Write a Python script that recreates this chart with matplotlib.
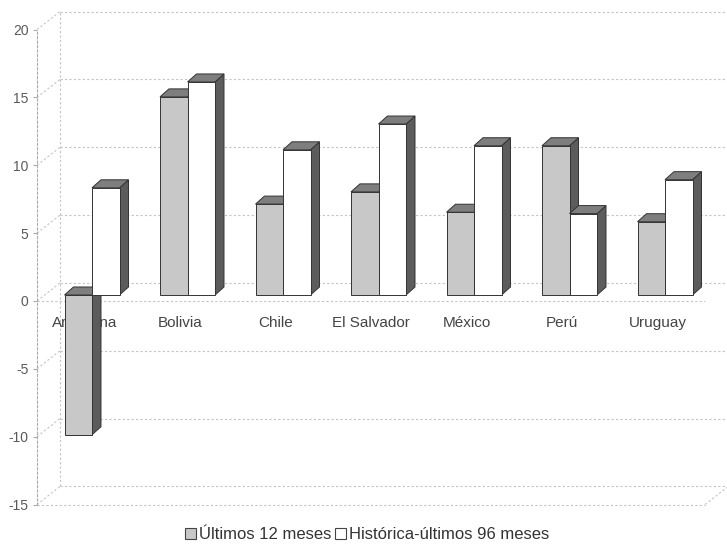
import matplotlib.pyplot as plt
from matplotlib.patches import Polygon, Rectangle, Patch

paises = ["Argentina", "Bolivia", "Chile", "El Salvador", "México", "Perú", "Uruguay"]
ultimos_12 = [-10.3, 14.6, 6.7, 7.6, 6.1, 11.0, 5.4]
historica_96 = [7.9, 15.7, 10.7, 12.6, 11.0, 6.0, 8.5]
ticks_y = [-15, -10, -5, 0, 5, 10, 15, 20]
series = ["Últimos 12 meses", "Histórica-últimos 96 meses"]

plt.rcParams['font.family'] = ['Liberation Sans', 'DejaVu Sans']

# oblique 3d look: depth of the walls and of the bars, in data units
WALL_DX, WALL_DY = 0.241, 1.33
BAR_DX, BAR_DY = 0.094, 0.59
BAR_W = 0.288
BAR_LIFT = 0.44
X0, X1 = -0.576, 6.42
GRID = '#c4c4c4'


def barra(ax, xl, v, frente, tapa, lado):
    lo, hi = sorted([BAR_LIFT, v + BAR_LIFT])
    xr = xl + BAR_W
    kw = dict(ec='#333333', lw=0.7, zorder=3, joinstyle='miter')
    ax.add_patch(Polygon([(xr, lo), (xr + BAR_DX, lo + BAR_DY), (xr + BAR_DX, hi + BAR_DY), (xr, hi)], fc=lado, **kw))
    ax.add_patch(Polygon([(xl, hi), (xr, hi), (xr + BAR_DX, hi + BAR_DY), (xl + BAR_DX, hi + BAR_DY)], fc=tapa, **kw))
    ax.add_patch(Rectangle((xl, lo), BAR_W, hi - lo, fc=frente, **kw))


fig = plt.figure(figsize=(7.27, 5.52), dpi=100)
ax = fig.add_axes([37 / 727, 0, 690 / 727, 1])
ax.set_xlim(-0.576, 6.649)
ax.set_ylim(-18.50, 22.18)

# back wall gridlines and side wall
lineas = dict(color=GRID, lw=0.8, ls=(0, (2, 2)), zorder=1)
for t in ticks_y:
    ax.plot([X0 + WALL_DX, 6.8], [t + WALL_DY, t + WALL_DY], **lineas)
    ax.plot([X0, X0 + WALL_DX], [t, t + WALL_DY], **lineas)
ax.plot([X0 + WALL_DX] * 2, [ticks_y[0] + WALL_DY, ticks_y[-1] + WALL_DY], **lineas)
# floor and category axis
ax.plot([X0, X1], [-15, -15], **lineas)
ax.plot([X1, X1 + WALL_DX], [-15, -15 + WALL_DY], **lineas)
ax.plot([X0, X1], [0, 0], **lineas)

for i, nombre in enumerate(paises):
    ax.text(i - 0.075, -1.62, nombre, ha='center', va='center', fontsize=11, color='#444444', zorder=2)
    barra(ax, i - BAR_W, ultimos_12[i], '#c8c8c8', '#7e7e7e', '#5c5c5c')
    barra(ax, i, historica_96[i], 'white', '#7e7e7e', '#5c5c5c')

ax.set_xticks([])
ax.set_yticks(ticks_y)
ax.set_yticklabels([str(t) for t in ticks_y])
ax.tick_params(axis='y', length=3, color='#aaaaaa', labelcolor='#5a5a5a', labelsize=10, pad=3)
for s in ['top', 'right', 'bottom']:
    ax.spines[s].set_visible(False)
ax.spines['left'].set_bounds(-15, 20)
ax.spines['left'].set_color('#aaaaaa')
ax.spines['left'].set_linestyle((0, (2, 2)))
ax.spines['left'].set_linewidth(0.8)
ax.patch.set_alpha(0)

handles = [Patch(fc='#c8c8c8', ec='#444444', lw=0.8), Patch(fc='white', ec='#444444', lw=0.8)]
fig.legend(handles, series, loc='center', bbox_to_anchor=(0.505, 0.031), ncol=2, frameon=False,
           fontsize=12, handlelength=0.65, handleheight=0.65, handletextpad=0.2,
           columnspacing=0.2, labelcolor='#333333')

fig.savefig('out.png', dpi=100)
